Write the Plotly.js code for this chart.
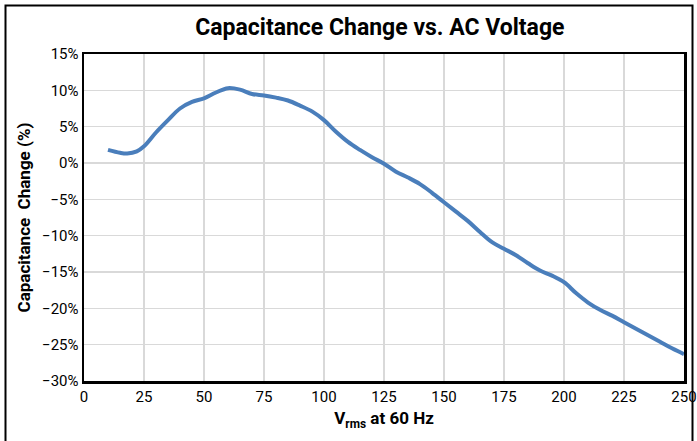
<!DOCTYPE html>
<html>
<head>
<meta charset="utf-8">
<script src="https://cdn.plot.ly/plotly-3.0.1.min.js"></script>
<style>
html,body{margin:0;padding:0;background:#fff;}
#chart{width:697px;height:441px;}
</style>
</head>
<body>
<div id="chart"></div>
<script>
var voltage = [10,15,18,22,25,30,35,40,45,50,55,60,65,70,75,80,85,90,95,100,105,110,115,120,125,130,135,140,145,150,155,160,165,170,175,180,185,190,195,200,205,210,215,220,225,230,235,240,245,250];
var capChange = [1.8,1.4,1.3,1.6,2.3,4.2,5.9,7.5,8.4,8.9,9.7,10.3,10.1,9.5,9.3,9.0,8.6,7.9,7.1,5.9,4.3,2.9,1.8,0.8,-0.1,-1.2,-2.0,-2.9,-4.1,-5.4,-6.7,-8.0,-9.5,-10.9,-11.8,-12.7,-13.8,-14.8,-15.5,-16.4,-17.9,-19.2,-20.2,-21.0,-21.9,-22.8,-23.7,-24.6,-25.5,-26.3];
var xTicks = [0,25,50,75,100,125,150,175,200,225,250];
var yTicks = [-30,-25,-20,-15,-10,-5,0,5,10,15];

var FONT = 'Roboto, "Noto Sans", sans-serif';

var trace = {
  x: voltage, y: capChange, type: 'scatter', mode: 'lines',
  line: {color: '#4a7ebb', width: 4, shape: 'spline', smoothing: 1},
  hoverinfo: 'skip'
};

var layout = {
  width: 697, height: 441,
  margin: {l: 84, r: 13, t: 54, b: 60},
  paper_bgcolor: '#fff', plot_bgcolor: '#fff',
  showlegend: false,
  font: {family: FONT, color: '#000', size: 15},
  title: {text: '<b>Capacitance Change vs. AC Voltage</b>', font: {family: FONT, size: 23, color: '#000'},
          x: 0.545, xanchor: 'center', y: 0.94, yanchor: 'middle'},
  xaxis: {
    range: [0, 250], tickvals: xTicks, ticktext: xTicks.map(String),
    showgrid: true, gridcolor: '#d9d9d9', gridwidth: 1.5,
    zeroline: false, showline: true, linecolor: '#000', linewidth: 2.5, mirror: true,
    ticks: '', ticklen: 0, ticklabeloverflow: 'allow', tickfont: {family: FONT, size: 15, color: '#000'},
    title: {text: '<b>V<sub>rms</sub> at 60 Hz</b>', font: {family: FONT, size: 17, color: '#000'}, standoff: 8}
  },
  yaxis: {
    range: [-30, 15], tickvals: yTicks, ticktext: yTicks.map(function(v){return (v<0?'\u2212'+(-v):v)+'%';}),
    showgrid: true, gridcolor: '#d9d9d9', gridwidth: 1.5,
    zeroline: false, showline: true, linecolor: '#000', linewidth: 2.5, mirror: true,
    ticks: '', ticklen: 0, tickfont: {family: FONT, size: 15, color: '#000'},
    title: {text: '<b>Capacitance  Change (%)</b>', font: {family: FONT, size: 17, color: '#000'}, standoff: 7}
  },
  shapes: [{
    type: 'rect', xref: 'paper', yref: 'paper',
    x0: (5.5-84)/600, x1: (692.5-84)/600,
    y0: (381-445)/327, y1: (381-5.5)/327,
    line: {color: '#000', width: 2}, fillcolor: 'rgba(0,0,0,0)', layer: 'below'
  }]
};

Plotly.newPlot('chart', [trace], layout, {displayModeBar: false, staticPlot: true});
</script>
</body>
</html>
